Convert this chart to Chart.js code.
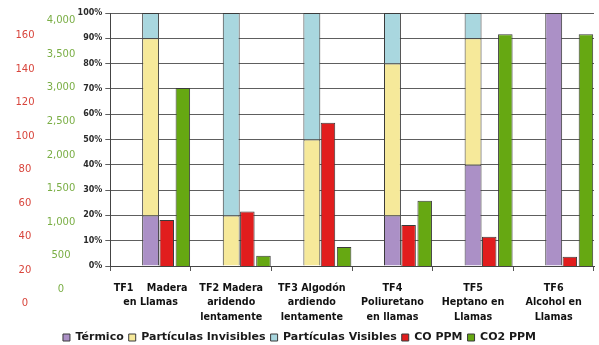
<!DOCTYPE html>
<html><head><meta charset="utf-8">
<script src="https://cdn.jsdelivr.net/npm/chart.js@4/dist/chart.umd.min.js"></script>
<style>html,body{margin:0;padding:0;background:#fff}</style>
</head><body>
<canvas id="c" width="599" height="345"></canvas>
<script>
// ---- data ----
const categories = [
  ['TF1    Madera', 'en Llamas'],
  ['TF2 Madera', 'aridendo', 'lentamente'],
  ['TF3 Algodón', 'ardiendo', 'lentamente'],
  ['TF4', 'Poliuretano', 'en llamas'],
  ['TF5', 'Heptano en', 'Llamas'],
  ['TF6', 'Alcohol en', 'Llamas']
];
const termico     = [20, 0, 0, 20, 40, 100];
const invisibles  = [70, 20, 50, 60, 50, 0];
const visibles    = [10, 80, 50, 20, 10, 0];
const coPPM       = [50, 55, 108, 47, 40, 28];
const co2PPM      = [3000, 500, 630, 1320, 3800, 3800];
const pctTicks    = [0, 10, 20, 30, 40, 50, 60, 70, 80, 90, 100];
const coTicks     = [0, 20, 40, 60, 80, 100, 120, 140, 160];
const co2Ticks    = [0, 500, 1000, 1500, 2000, 2500, 3000, 3500, 4000];
// axis ranges as drawn in the original picture (its CO / CO2 axes are offset)
const coRange  = [22.5, 173.5];
const co2Range = [348, 4115];

const FONT = 'DejaVu Sans';
const edge = '#3a3a3a';

const chart = new Chart(document.getElementById('c'), {
  type: 'bar',
  data: {
    labels: categories,
    datasets: [
      { label: '', spacer: true, data: [], stack: 'e1', yAxisID: 'y' },
      { label: '', spacer: true, data: [], stack: 'e2', yAxisID: 'y' },
      { label: 'Térmico', data: termico, stack: 'pct', yAxisID: 'y',
        backgroundColor: '#ab90c6', borderColor: edge, borderWidth: 1, barPercentage: 1.05 },
      { label: 'Partículas Invisibles', data: invisibles, stack: 'pct', yAxisID: 'y',
        backgroundColor: '#f6e99a', borderColor: edge, borderWidth: 1, barPercentage: 1.05 },
      { label: 'Partículas Visibles', data: visibles, stack: 'pct', yAxisID: 'y',
        backgroundColor: '#a9d7df', borderColor: edge, borderWidth: 1, barPercentage: 1.05 },
      { label: 'CO PPM', data: coPPM, stack: 'co', yAxisID: 'yR', base: coRange[0],
        backgroundColor: '#e11d1d', borderColor: edge, borderWidth: 1, barPercentage: 0.9 },
      { label: 'CO2 PPM', data: co2PPM, stack: 'co2', yAxisID: 'yG', base: co2Range[0],
        backgroundColor: '#66a812', borderColor: edge, borderWidth: 1, barPercentage: 0.9 }
    ]
  },
  options: {
    responsive: false,
    animation: false,
    devicePixelRatio: 1,
    layout: { padding: { left: 5, right: 5, top: 13, bottom: -8 } },
    datasets: { bar: { categoryPercentage: 1, barPercentage: 1 } },
    plugins: {
      tooltip: { enabled: false },
      legend: {
        position: 'bottom',
        labels: {
          filter: (item, data) => !data.datasets[item.datasetIndex].spacer,
          boxWidth: 7, boxHeight: 7, padding: 5, color: '#1a1a1a',
          font: { family: FONT, size: 11, weight: 'bold' }
        }
      }
    },
    scales: {
      x: {
        offset: true,
        grid: { offset: true, drawOnChartArea: false, drawTicks: true, tickLength: 5, color: '#555' },
        border: { color: '#444' },
        ticks: { maxRotation: 0, minRotation: 0, autoSkip: false, padding: 10, color: '#111',
          font: { family: FONT, size: 9.6, weight: 'bold', lineHeight: 1.5 } },
        afterFit: (s) => { s.height = 61; }
      },
      y: {
        position: 'left', weight: 0, stacked: true, min: 0, max: 100,
        afterBuildTicks: (s) => { s.ticks = pctTicks.map(v => ({ value: v })); },
        grid: { color: '#5e5e5e', tickLength: 5 },
        border: { color: '#444' },
        ticks: { autoSkip: false, padding: 3, color: '#2a2a2a', callback: (v) => v + '%',
          font: { family: FONT, size: 8, weight: 'bold' } },
        afterFit: (s) => { s.width = 33; }
      },
      yG: {
        position: 'left', weight: 1, stacked: false, min: co2Range[0], max: co2Range[1],
        afterBuildTicks: (s) => { s.ticks = co2Ticks.map(v => ({ value: v })); },
        grid: { display: false, drawTicks: false }, border: { display: false },
        ticks: { autoSkip: false, crossAlign: 'center', padding: 2, color: '#7aae45',
          callback: (v) => v.toLocaleString('en-US'),
          font: { family: FONT, size: 10 } },
        afterFit: (s) => { s.width = 40.8; }
      },
      yR: {
        position: 'left', weight: 2, stacked: false, min: coRange[0], max: coRange[1],
        afterBuildTicks: (s) => { s.ticks = coTicks.map(v => ({ value: v })); },
        grid: { display: false, drawTicks: false }, border: { display: false },
        ticks: { autoSkip: false, crossAlign: 'center', padding: 2, color: '#d8453c',
          callback: (v) => String(v),
          font: { family: FONT, size: 10 } },
        afterFit: (s) => { s.width = 31.5; }
      }
    }
  }
});
</script>
</body></html>
